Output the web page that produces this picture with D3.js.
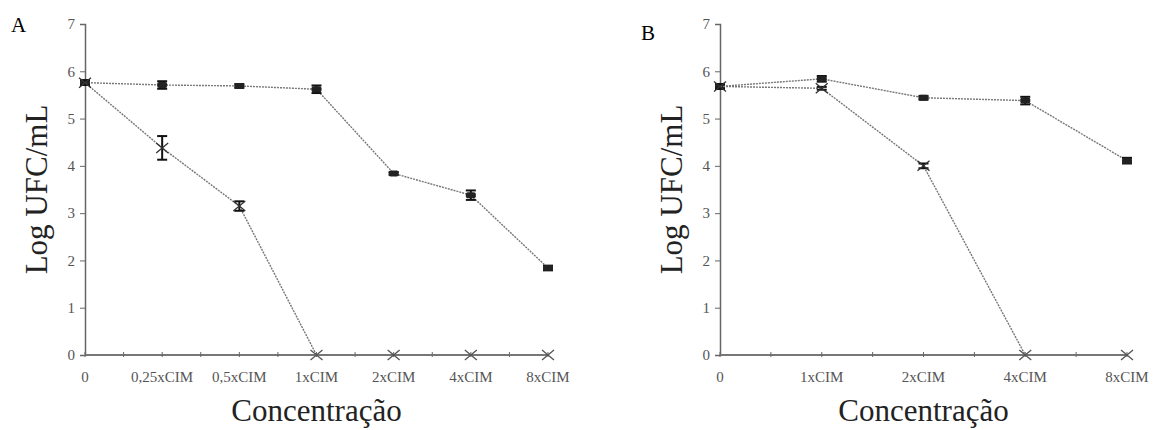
<!DOCTYPE html>
<html>
<head>
<meta charset="utf-8">
<script src="https://cdn.jsdelivr.net/npm/d3@7"></script>
<style>
  body { margin: 0; background: #fff; }
  svg text { font-family: "Liberation Serif", "Times New Roman", serif; }
</style>
</head>
<body>
<div id="root"></div>
<script>
// panel A
const catsA = ["0", "0,25xCIM", "0,5xCIM", "1xCIM", "2xCIM", "4xCIM", "8xCIM"]
const upperA = [5.76, 5.71, 5.69, 5.62, 3.84, 3.38, 1.84]
const upperErrA = [0.05, 0.08, 0.04, 0.08, 0.03, 0.1, 0.05]
const lowerA = [5.76, 4.38, 3.15, 0, 0, 0, 0]
const lowerErrA = [0.05, 0.25, 0.1, 0, 0, 0, 0]

// panel B
const catsB = ["0", "1xCIM", "2xCIM", "4xCIM", "8xCIM"]
const upperB = [5.68, 5.84, 5.44, 5.38, 4.11]
const upperErrB = [0.05, 0.06, 0.04, 0.08, 0.06]
const lowerB = [5.68, 5.64, 4.0, 0, 0]
const lowerErrB = [0.05, 0.03, 0.05, 0, 0]

const yTicks = [0, 1, 2, 3, 4, 5, 6, 7]

const width = 1160, height = 430
const svg = d3.select('#root').append('svg')
  .attr('width', width).attr('height', height)

const y = d3.scaleLinear().domain([0, 7]).range([355, 24])

function drawPanel({ letter, letterX, letterY, cats, upper, upperErr, lower, lowerErr, x0, x1 }) {
  const g = svg.append('g')
  const x = d3.scalePoint().domain(cats).range([x0, x1])

  // y axis
  const yAxis = d3.axisLeft(y).tickValues(yTicks).tickFormat(d3.format('d')).tickSize(5).tickPadding(5)
  const ya = g.append('g').attr('transform', `translate(${x0},0)`).call(yAxis)
  ya.select('.domain').attr('stroke', '#666').attr('stroke-width', 1.5)
  ya.selectAll('.tick line').attr('stroke', '#666')
  ya.selectAll('.tick text').attr('fill', '#555').style('font-size', '15px')

  // x axis
  g.append('line')
    .attr('x1', x0).attr('x2', x1).attr('y1', y(0)).attr('y2', y(0))
    .attr('stroke', '#777').attr('stroke-width', 2)
  const mids = cats.slice(1).map((c, i) => (x(cats[i]) + x(c)) / 2)
  const tickXs = cats.map(c => x(c)).concat(mids)
  g.selectAll('.xt').data(tickXs).enter().append('line')
    .attr('x1', d => d).attr('x2', d => d)
    .attr('y1', y(0) - 3).attr('y2', y(0) + 2)
    .attr('stroke', '#666').attr('stroke-width', 1)
  g.selectAll('.xl').data(cats).enter().append('text')
    .attr('x', d => x(d)).attr('y', 382)
    .attr('text-anchor', 'middle')
    .attr('fill', '#555')
    .style('font-size', '15px')
    .text(d => d)

  // titles
  g.append('text')
    .attr('x', (x0 + x1) / 2).attr('y', 421)
    .attr('text-anchor', 'middle')
    .style('font-size', '31px').attr('fill', '#222')
    .text('Concentração')
  g.append('text')
    .attr('transform', `translate(${x0 - 38},${y(3.5)}) rotate(-90)`)
    .attr('text-anchor', 'middle')
    .style('font-size', '31px').attr('fill', '#222')
    .text('Log UFC/mL')
  g.append('text')
    .attr('x', letterX).attr('y', letterY)
    .style('font-size', '21px').attr('fill', '#000')
    .text(letter)

  const line = d3.line().x(d => x(d.c)).y(d => y(d.v))

  const series = [
    { vals: upper, errs: upperErr, mark: 'rect' },
    { vals: lower, errs: lowerErr, mark: 'cross' },
  ]

  series.forEach(s => {
    const data = cats.map((c, i) => ({ c, v: s.vals[i], e: s.errs[i] }))
    g.append('path')
      .datum(data)
      .attr('d', line)
      .attr('fill', 'none')
      .attr('stroke', '#777')
      .attr('stroke-width', 1.4)
      .attr('stroke-dasharray', '2,1')

    const pts = g.selectAll(null).data(data).enter().append('g')
      .attr('transform', d => `translate(${x(d.c)},${y(d.v)})`)

    // error bars
    const eb = pts.filter(d => d.e > 0)
    eb.append('line')
      .attr('x1', 0).attr('x2', 0)
      .attr('y1', d => y(d.v + d.e) - y(d.v)).attr('y2', d => y(d.v - d.e) - y(d.v))
      .attr('stroke', '#111').attr('stroke-width', 2)
    eb.append('line')
      .attr('x1', -5).attr('x2', 5)
      .attr('y1', d => y(d.v + d.e) - y(d.v)).attr('y2', d => y(d.v + d.e) - y(d.v))
      .attr('stroke', '#111').attr('stroke-width', 2)
    eb.append('line')
      .attr('x1', -5).attr('x2', 5)
      .attr('y1', d => y(d.v - d.e) - y(d.v)).attr('y2', d => y(d.v - d.e) - y(d.v))
      .attr('stroke', '#111').attr('stroke-width', 2)

    if (s.mark === 'rect') {
      pts.append('rect')
        .attr('x', -5).attr('y', -3).attr('width', 10).attr('height', 6)
        .attr('rx', 2)
        .attr('fill', '#222')
    } else {
      pts.append('path')
        .attr('d', 'M-6,-5L6,5M-6,5L6,-5')
        .attr('stroke', d => d.v === 0 ? '#555' : '#333')
        .attr('stroke-width', 1.3)
        .attr('fill', 'none')
    }
  })
}

drawPanel({
  letter: 'A', letterX: 11, letterY: 32,
  cats: catsA, upper: upperA, upperErr: upperErrA, lower: lowerA, lowerErr: lowerErrA,
  x0: 85, x1: 548,
})

drawPanel({
  letter: 'B', letterX: 641, letterY: 40,
  cats: catsB, upper: upperB, upperErr: upperErrB, lower: lowerB, lowerErr: lowerErrB,
  x0: 720, x1: 1127,
})
</script>
</body>
</html>
